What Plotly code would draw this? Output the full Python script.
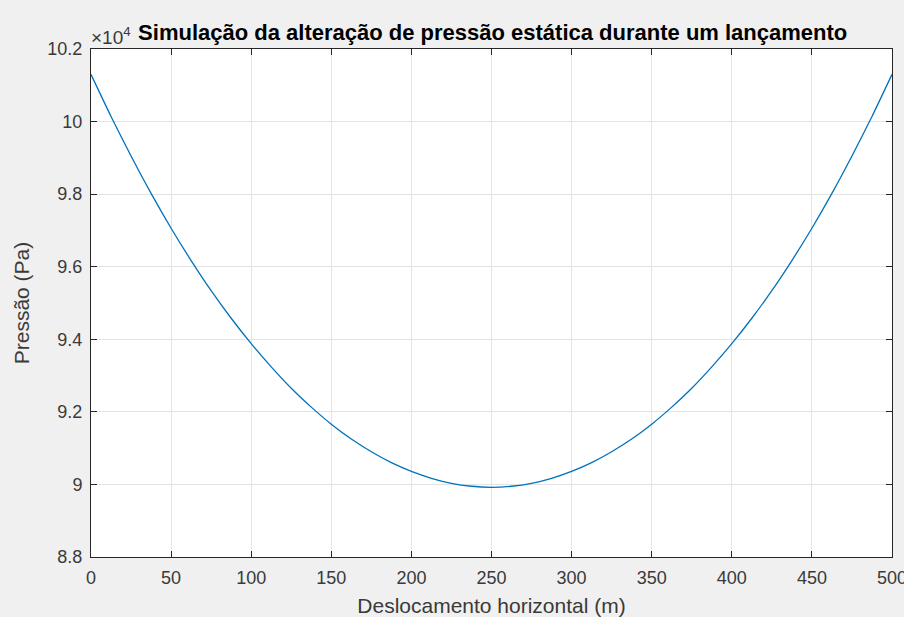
import plotly.graph_objects as go

# Horizontal displacement (m)
deslocamento = [0, 12.5, 25, 37.5, 50, 62.5, 75, 87.5, 100, 112.5, 125, 137.5, 150,
                162.5, 175, 187.5, 200, 212.5, 225, 237.5, 250,
                262.5, 275, 287.5, 300, 312.5, 325, 337.5, 350, 362.5, 375,
                387.5, 400, 412.5, 425, 437.5, 450, 462.5, 475, 487.5, 500]
# Static pressure (Pa)
pressao = [101300, 100140, 99050, 98020, 97060, 96170, 95340, 94580, 93880, 93240, 92650, 92130, 91660,
           91250, 90900, 90600, 90360, 90170, 90030, 89950, 89920,
           89950, 90030, 90170, 90360, 90600, 90900, 91250, 91660, 92130, 92650,
           93240, 93880, 94580, 95340, 96170, 97060, 98020, 99050, 100140, 101300]

x_ticks = [0, 50, 100, 150, 200, 250, 300, 350, 400, 450, 500]
y_ticks = [88000, 90000, 92000, 94000, 96000, 98000, 100000, 102000]
y_tick_labels = ["8.8", "9", "9.2", "9.4", "9.6", "9.8", "10", "10.2"]

titulo = "Simulação da alteração de pressão estática durante um lançamento"
x_titulo = "Deslocamento horizontal (m)"
y_titulo = "Pressão (Pa)"

FONT = "Liberation Sans, Arial, sans-serif"
AX = "#262626"
TXT = "#3a3a3a"
GRID = "#e3e3e3"

fig = go.Figure()
fig.add_trace(go.Scatter(
    x=deslocamento, y=pressao, mode="lines",
    line=dict(color="#0072BD", width=1.3, shape="spline", smoothing=0.6),
    hoverinfo="x+y", showlegend=False,
))

axis_common = dict(
    showline=True, linecolor=AX, linewidth=1, mirror="ticks",
    ticks="inside", ticklen=6, tickcolor=AX, tickwidth=1,
    showgrid=True, gridcolor=GRID, gridwidth=1, zeroline=False,
    tickfont=dict(family=FONT, size=18, color=TXT),
    ticklabeloverflow="allow", automargin=False,
)

fig.update_xaxes(range=[0, 500], tickvals=x_ticks, ticklabelstandoff=4,
                 title=dict(text=x_titulo, font=dict(family=FONT, size=21, color=TXT), standoff=12),
                 **axis_common)
fig.update_yaxes(range=[88000, 102000], tickvals=y_ticks, ticktext=y_tick_labels,
                 ticklabelstandoff=4,
                 title=dict(text=y_titulo, font=dict(family=FONT, size=21, color=TXT), standoff=12),
                 **axis_common)

fig.update_layout(
    width=904, height=617,
    paper_bgcolor="#f0f0f0", plot_bgcolor="white",
    margin=dict(l=91, r=12, t=49, b=60, pad=0, autoexpand=False),
    title=dict(text="<b>" + titulo + "</b>", x=0.545, xanchor="center", y=0.948, yanchor="middle",
               font=dict(family=FONT, size=22, color="black"), automargin=False),
    annotations=[dict(text="×10<sup>4</sup>", xref="paper", yref="paper", x=0, y=1.0,
                      xanchor="left", yanchor="bottom", showarrow=False, yshift=-1, xshift=-2,
                      font=dict(family=FONT, size=19, color=TXT))],
)

fig.write_html("out.html", config={"displayModeBar": False})

# remove the browser's default body margin so the figure fills the window
with open("out.html", "r", encoding="utf-8") as f:
    html = f.read()
html = html.replace("<body>", '<body style="margin:0;overflow:hidden">', 1)
with open("out.html", "w", encoding="utf-8") as f:
    f.write(html)
